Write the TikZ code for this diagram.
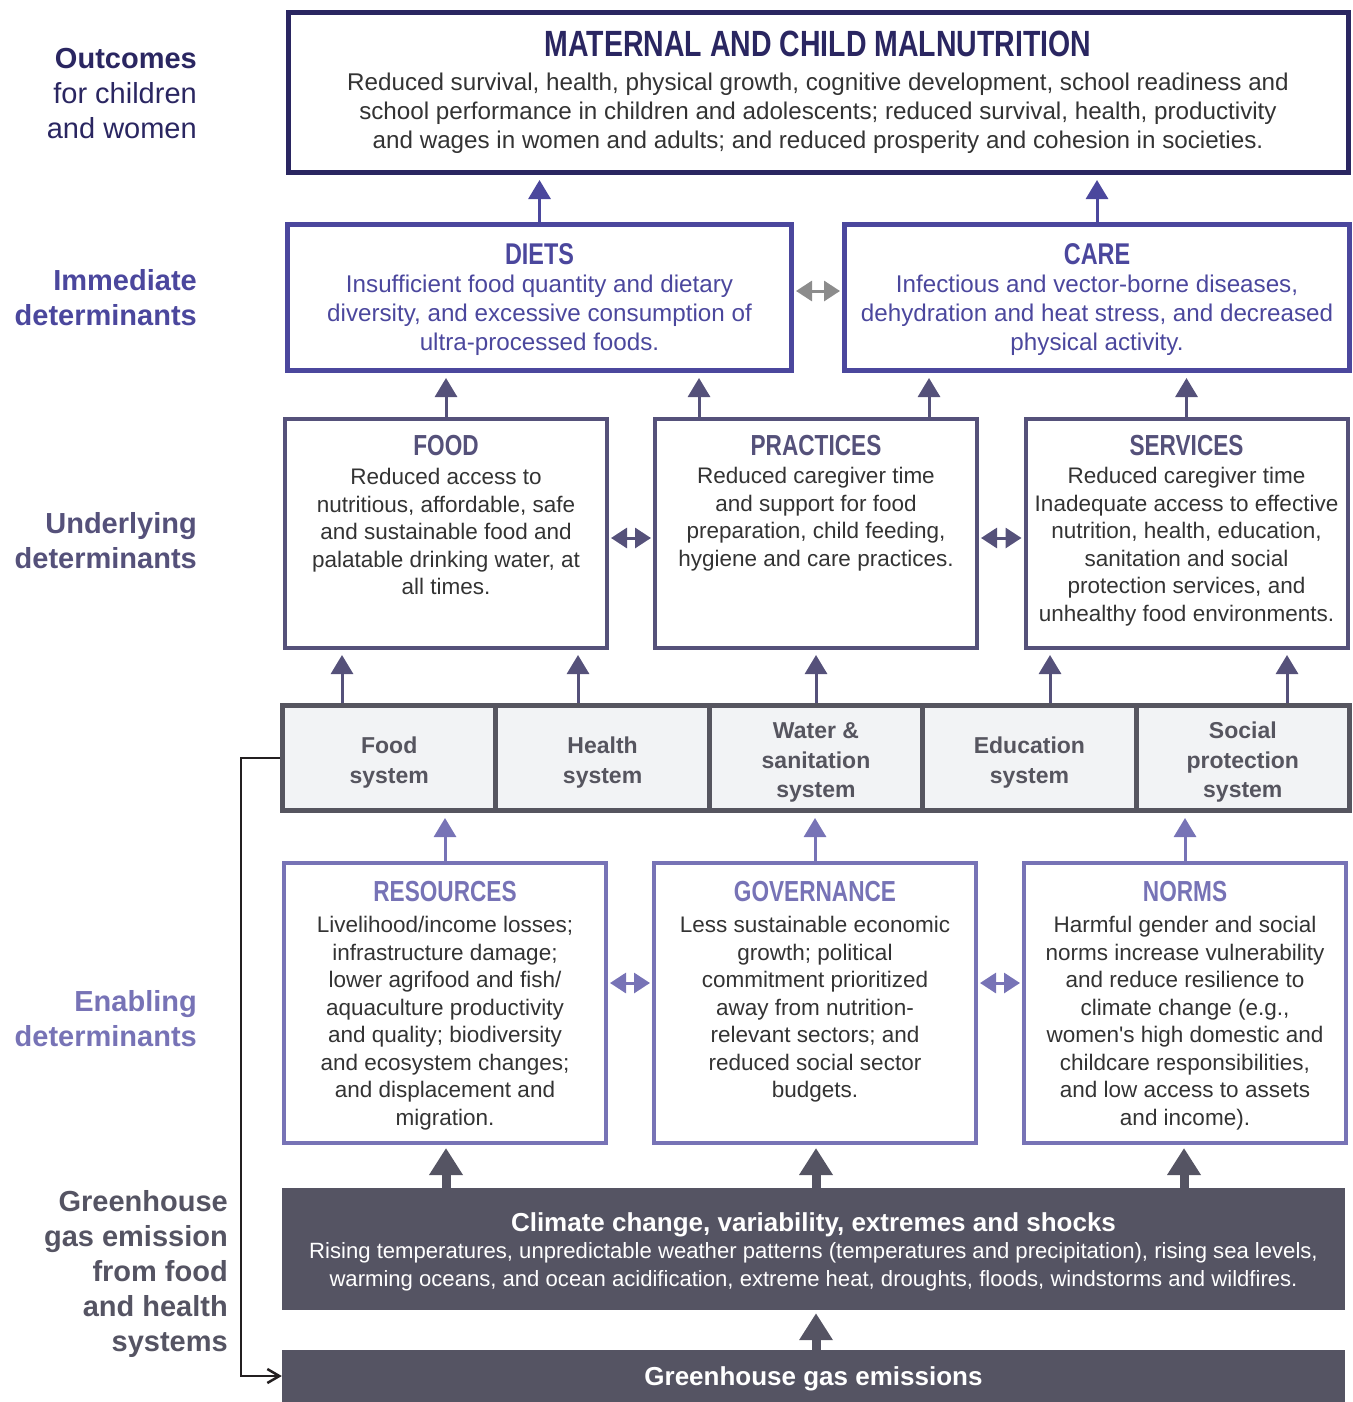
\documentclass[tikz,border=0pt]{standalone}
\usepackage{fontspec}
\setmainfont{Liberation Sans}
\newfontfamily\condfont[FakeStretch=0.78]{Liberation Sans}
\usetikzlibrary{arrows.meta}

\definecolor{outnavy}{HTML}{2A2661}
\definecolor{immcol}{HTML}{4B479D}
\definecolor{undcol}{HTML}{55517A}
\definecolor{syscol}{HTML}{56555F}
\definecolor{sysfill}{HTML}{F2F3F5}
\definecolor{enacol}{HTML}{7773B6}
\definecolor{climcol}{HTML}{555463}
\definecolor{bodygray}{HTML}{333333}
\definecolor{dblgray}{HTML}{8C8C8C}
\definecolor{fbblack}{HTML}{231F20}

\tikzset{
  outbox/.style={draw=outnavy, line width=5pt, minimum width=1060pt, minimum height=160pt},
  immbox/.style={draw=immcol, line width=5pt, minimum width=504pt, minimum height=146pt},
  undbox/.style={draw=undcol, line width=4pt, minimum width=322pt, minimum height=229pt},
  sysbox/.style={draw=syscol, fill=sysfill, line width=5pt, minimum width=213.4pt, minimum height=105pt},
  systxt/.style={inner sep=0pt, align=center, text=syscol, font=\bfseries\fontsize{23}{29.5}\selectfont},
  enabox/.style={draw=enacol, line width=4pt, minimum width=322pt, minimum height=280pt},
  climbox/.style={fill=climcol, minimum width=1063pt, inner sep=0pt},
  boxtitle/.style={inner sep=0pt, font=\condfont\bfseries\fontsize{29}{29}\selectfont},
  bodytxt/.style={inner sep=0pt, align=center, text=bodygray, font=\fontsize{24.2}{29}\selectfont},
  smalltxt/.style={inner sep=0pt, align=center, text=bodygray, font=\fontsize{22.5}{27.5}\selectfont},
  sidelab/.style={inner sep=0pt, anchor=east, align=right, font=\fontsize{29}{35}\selectfont},
  uparr/.style={line width=3pt, shorten >=5pt, -{Triangle[width=22pt,length=19pt]}},
  bigarr/.style={climcol, line width=9pt, shorten >=3pt, -{Triangle[width=32pt,length=27pt]}},
  dblarr/.style={line width=3pt, shorten >=2pt, shorten <=2pt,
    {Triangle[width=20pt,length=16pt]}-{Triangle[width=20pt,length=16pt]}},
}

\begin{document}
\begin{tikzpicture}[x=1pt, y=-1pt]
\useasboundingbox (0,0) rectangle (1352,1402);

\node[sidelab, text=outnavy] (labout) at (197,94) {\textbf{Outcomes}\\for children\\and women};
\node[sidelab, text=immcol] (labimm) at (197,298) {\textbf{Immediate}\\\textbf{determinants}};
\node[sidelab, text=undcol] (labund) at (197,541) {\textbf{Underlying}\\\textbf{determinants}};
\node[sidelab, text=enacol] (labena) at (197,1019) {\textbf{Enabling}\\\textbf{determinants}};
\node[sidelab, text=climcol, font=\bfseries\fontsize{29}{35}\selectfont] (labghg) at (228,1274)
  {Greenhouse\\gas emission\\from food\\and health\\systems};

\node[outbox] (outcome) at (818.5,92.5) {};
\node[boxtitle, text=outnavy, font=\condfont\bfseries\fontsize{36.5}{36.5}\selectfont] (outtitle) at (818,44) {MATERNAL AND CHILD MALNUTRITION};
\node[bodytxt] (outtxt) at (818,113.5) {Reduced survival, health, physical growth, cognitive development, school readiness and\\school performance in children and adolescents; reduced survival, health, productivity\\and wages in women and adults; and reduced prosperity and cohesion in societies.};

\node[immbox] (diets) at (539.5,297.5) {};
\node[immbox, minimum width=505pt] (care) at (1097,297.5) {};
\node[boxtitle, text=immcol, font=\condfont\bfseries\fontsize{30}{30}\selectfont] (dietstitle) at (539.5,254) {DIETS};
\node[boxtitle, text=immcol, font=\condfont\bfseries\fontsize{30}{30}\selectfont] (caretitle) at (1097,254) {CARE};
\node[bodytxt, text=immcol] (dietstxt) at (539.5,315.5) {Insufficient food quantity and dietary\\diversity, and excessive consumption of\\ultra-processed foods.};
\node[bodytxt, text=immcol] (caretxt) at (1097,315.5) {Infectious and vector-borne diseases,\\dehydration and heat stress, and decreased\\physical activity.};

\node[undbox] (food) at (446,533.5) {};
\node[undbox] (pract) at (816,533.5) {};
\node[undbox] (serv) at (1186.5,533.5) {};
\node[boxtitle, text=undcol] (foodtitle) at (446,446) {FOOD};
\node[boxtitle, text=undcol] (practtitle) at (816,446) {PRACTICES};
\node[boxtitle, text=undcol] (servtitle) at (1186.5,446) {SERVICES};
\node[smalltxt] (foodtxt) at (446,531.5) {Reduced access to\\nutritious, affordable, safe\\and sustainable food and\\palatable drinking water, at\\all times.};
\node[smalltxt] (practtxt) at (816,519) {Reduced caregiver time\\and support for food\\preparation, child feeding,\\hygiene and care practices.};
\node[smalltxt] (servtxt) at (1186.5,546.5) {Reduced caregiver time\\Inadequate access to effective\\nutrition, health, education,\\sanitation and social\\protection services, and\\unhealthy food environments.};

\node[sysbox] (foodsys) at (389.2,758) {};
\node[sysbox] (hlthsys) at (602.6,758) {};
\node[sysbox] (watsys) at (816,758) {};
\node[sysbox] (edusys) at (1029.4,758) {};
\node[sysbox] (socsys) at (1242.8,758) {};
\node[systxt] (foodsystxt) at (389.2,762.5) {Food\\system};
\node[systxt] (hlthsystxt) at (602.6,762.5) {Health\\system};
\node[systxt] (watsystxt) at (816,762.5) {Water \&\\sanitation\\system};
\node[systxt] (edusystxt) at (1029.4,762.5) {Education\\system};
\node[systxt] (socsystxt) at (1242.8,762.5) {Social\\protection\\system};

\node[enabox] (resrc) at (445,1003) {};
\node[enabox] (govern) at (815,1003) {};
\node[enabox] (norms) at (1185,1003) {};
\node[boxtitle, text=enacol] (resrctitle) at (445,892) {RESOURCES};
\node[boxtitle, text=enacol] (governtitle) at (815,892) {GOVERNANCE};
\node[boxtitle, text=enacol] (normstitle) at (1185,892) {NORMS};
\node[smalltxt] (resrctxt) at (445,1023) {Livelihood/income losses;\\infrastructure damage;\\lower agrifood and fish/\\aquaculture productivity\\and quality; biodiversity\\and ecosystem changes;\\and displacement and\\migration.};
\node[smalltxt] (governtxt) at (815,1009.5) {Less sustainable economic\\growth; political\\commitment prioritized\\away from nutrition-\\relevant sectors; and\\reduced social sector\\budgets.};
\node[smalltxt] (normstxt) at (1185,1023) {Harmful gender and social\\norms increase vulnerability\\and reduce resilience to\\climate change (e.g.,\\women\textquotesingle s high domestic and\\childcare responsibilities,\\and low access to assets\\and income).};

\node[climbox, minimum height=122pt] (climate) at (813.5,1249) {};
\node[inner sep=0pt, text=white, font=\bfseries\fontsize{26}{26}\selectfont] (climtitle) at (813.5,1225) {Climate change, variability, extremes and shocks};
\node[inner sep=0pt, align=center, text=white, font=\fontsize{22.1}{28}\selectfont] (climtxt) at (813.5,1266.5) {Rising temperatures, unpredictable weather patterns (temperatures and precipitation), rising sea levels,\\warming oceans, and ocean acidification, extreme heat, droughts, floods, windstorms and wildfires.};
\node[climbox, minimum height=52pt] (ghg) at (813.5,1376) {};
\node[inner sep=0pt, text=white, font=\bfseries\fontsize{26}{26}\selectfont] (ghgtxt) at (813.5,1379) {Greenhouse gas emissions};

\draw[uparr, immcol] (diets.north) -- (diets.north |- outcome.south);
\draw[uparr, immcol] (care.north) -- (care.north |- outcome.south);
\draw[dblarr, dblgray] (diets.east |- 0,291) -- (care.west |- 0,291);

\draw[uparr, undcol] (food.north) -- (food.north |- diets.south);
\draw[uparr, undcol] (699,0 |- pract.north) -- (699,0 |- diets.south);
\draw[uparr, undcol] (929,0 |- pract.north) -- (929,0 |- care.south);
\draw[uparr, undcol] (serv.north) -- (serv.north |- care.south);
\draw[dblarr, undcol] (food.east |- 0,538) -- (pract.west |- 0,538);
\draw[dblarr, undcol] (pract.east |- 0,538) -- (serv.west |- 0,538);

\draw[uparr, undcol] (342,0 |- foodsys.north) -- (342,0 |- food.south);
\draw[uparr, undcol] (578,0 |- hlthsys.north) -- (578,0 |- food.south);
\draw[uparr, undcol] (watsys.north) -- (watsys.north |- pract.south);
\draw[uparr, undcol] (1050,0 |- edusys.north) -- (1050,0 |- serv.south);
\draw[uparr, undcol] (1287,0 |- socsys.north) -- (1287,0 |- serv.south);

\draw[uparr, enacol] (resrc.north) -- (resrc.north |- foodsys.south);
\draw[uparr, enacol] (govern.north) -- (govern.north |- watsys.south);
\draw[uparr, enacol] (norms.north) -- (norms.north |- socsys.south);
\draw[dblarr, enacol] (resrc.east |- 0,983) -- (govern.west |- 0,983);
\draw[dblarr, enacol] (govern.east |- 0,983) -- (norms.west |- 0,983);

\draw[bigarr] (446,0 |- climate.north) -- (446,0 |- resrc.south);
\draw[bigarr] (816,0 |- climate.north) -- (816,0 |- govern.south);
\draw[bigarr] (1184,0 |- climate.north) -- (1184,0 |- norms.south);
\draw[bigarr] (816,0 |- ghg.north) -- (816,0 |- climate.south);

\draw[fbblack, line width=2.5pt, -{Straight Barb[length=12pt,width=14pt]}] (foodsys.west) -- ++(-39,0) |- (ghg.west);
\end{tikzpicture}
\end{document}
